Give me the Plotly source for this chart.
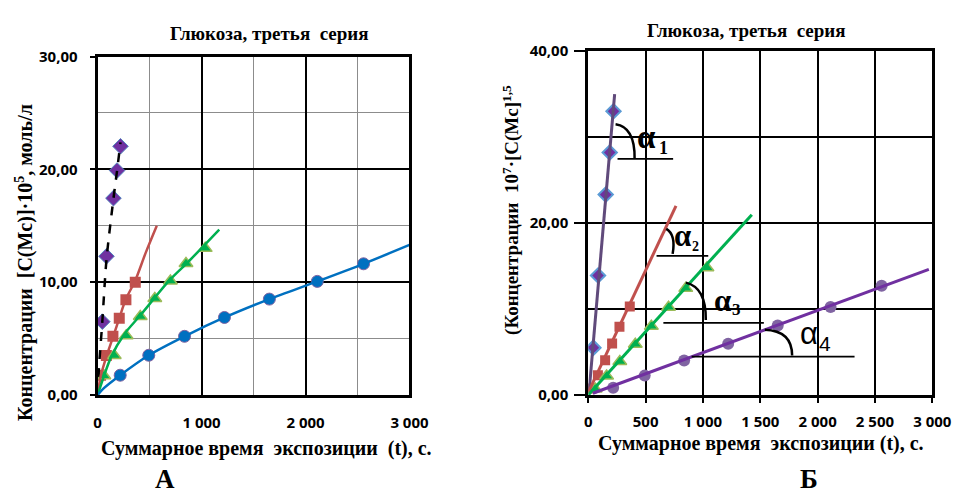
import plotly.graph_objects as go

W, H = 976, 499


def px(x):
    return x / W


def py(y):
    return 1 - y / H


# ---------------- data ----------------
# time, s
dia_t = [45, 85, 152, 187, 220]
sq_t = [28, 84, 147, 208, 272, 362]
tri_t = [60, 160, 275, 410, 550, 700, 850, 1035]
cir_t = [217, 492, 836, 1220, 1652, 2113, 2558]

# panel A: concentration C*10^5, mol/l
dia_c = [6.5, 12.3, 17.45, 19.9, 22.05]
sq_c = [1.75, 3.5, 5.2, 6.8, 8.45, 10.0]
tri_c = [1.7, 3.5, 5.25, 6.95, 8.55, 10.1, 11.65, 13.0]
cir_c = [1.75, 3.52, 5.2, 6.87, 8.5, 10.07, 11.63]

# panel B: 10^7*[C]^1.5
dia_c15 = [5.5, 13.9, 23.3, 28.2, 33.0]
sq_c15 = [0.75, 2.3, 4.05, 6.0, 7.93, 10.3]
tri_c15 = [0.7, 2.2, 3.9, 5.9, 8.0, 10.2, 12.4, 14.8]
cir_c15 = [0.85, 2.25, 4.0, 5.96, 8.08, 10.24, 12.7]

# trend lines, panel A
dia_fit_t = [0, 12, 45, 85, 152, 187, 220]
dia_fit_c = [0, 2.3, 6.5, 12.0, 17.4, 19.9, 22.4]
sq_fit_t = [0, 28, 84, 147, 208, 272, 362, 460, 569]
sq_fit_c = [0, 1.6, 3.4, 5.1, 6.8, 8.5, 10.15, 12.55, 15.0]
tri_fit_t = [0, 131, 256, 413, 694, 882, 1170]
tri_fit_c = [0, 3.4, 5.39, 7.09, 10.2, 11.9, 14.66]
cir_fit_t = [0, 60, 217, 492, 836, 1220, 1652, 2113, 2558, 3000]
cir_fit_c = [0, 0.6, 1.75, 3.52, 5.2, 6.87, 8.5, 10.07, 11.63, 13.3]

# trend lines, panel B (end points)
dia_fit2_t = [8, 230]
dia_fit2_c = [0.5, 35.0]
sq_fit2_t = [0, 765]
sq_fit2_c = [0.3, 22.0]
tri_fit2_t = [0, 1426]
tri_fit2_c = [0, 20.97]
cir_fit2_t = [40, 2970]
cir_fit2_c = [0.2, 14.6]

# tick labels
x_ticks_A = [0, 1000, 2000, 3000]
x_labels_A = ["0", "1 000", "2 000", "3 000"]
y_ticks_A = [0, 10, 20, 30]
y_labels_A = ["0,00", "10,00", "20,00", "30,00"]
x_ticks_B = [0, 500, 1000, 1500, 2000, 2500, 3000]
x_labels_B = ["0", "500", "1 000", "1 500", "2 000", "2 500", "3 000"]
y_ticks_B = [0, 20, 40]
y_labels_B = ["0,00", "20,00", "40,00"]


def bold(labels):
    return ["<b>%s</b>" % s for s in labels]


# ---------------- styles ----------------
PURPLE = "#7030A0"
EDGE_BLUE = "#4F81BD"
RED = "#C0504D"
GREEN = "#00B050"
OLIVE = "#9BBB59"
BLUE = "#0070C0"
LAV = "#8064A2"
DARKPURP = "#604A7B"

fig = go.Figure()

# ---- panel A markers
fig.add_trace(go.Scatter(x=dia_t, y=dia_c, mode="markers", xaxis="x", yaxis="y",
                         marker=dict(symbol="diamond", size=12, color=PURPLE,
                                     line=dict(color=EDGE_BLUE, width=1))))
fig.add_trace(go.Scatter(x=sq_t, y=sq_c, mode="markers", xaxis="x", yaxis="y",
                         marker=dict(symbol="square", size=11, color=RED,
                                     line=dict(color=RED, width=0))))
fig.add_trace(go.Scatter(x=tri_t, y=tri_c, mode="markers", xaxis="x", yaxis="y",
                         marker=dict(symbol="triangle-up", size=12, color=GREEN,
                                     line=dict(color=OLIVE, width=1.5))))
fig.add_trace(go.Scatter(x=cir_t, y=cir_c, mode="markers", xaxis="x", yaxis="y",
                         marker=dict(symbol="circle", size=12, color=BLUE,
                                     line=dict(color=LAV, width=1))))
# ---- panel A trend lines
fig.add_trace(go.Scatter(x=dia_fit_t, y=dia_fit_c, mode="lines", xaxis="x", yaxis="y",
                         line=dict(color="black", width=2.5, dash="dash", shape="spline", smoothing=0.8)))
fig.add_trace(go.Scatter(x=sq_fit_t, y=sq_fit_c, mode="lines", xaxis="x", yaxis="y",
                         line=dict(color=RED, width=2.5, shape="spline", smoothing=0.8)))
fig.add_trace(go.Scatter(x=tri_fit_t, y=tri_fit_c, mode="lines", xaxis="x", yaxis="y",
                         line=dict(color=GREEN, width=2.5, shape="spline", smoothing=0.8)))
fig.add_trace(go.Scatter(x=cir_fit_t, y=cir_fit_c, mode="lines", xaxis="x", yaxis="y",
                         line=dict(color=BLUE, width=2.5, shape="spline", smoothing=0.8)))

# ---- panel B markers
fig.add_trace(go.Scatter(x=dia_t, y=dia_c15, mode="markers", xaxis="x2", yaxis="y2",
                         marker=dict(symbol="diamond", size=11, color=PURPLE,
                                     line=dict(color="#5B9BD5", width=2))))
fig.add_trace(go.Scatter(x=sq_t, y=sq_c15, mode="markers", xaxis="x2", yaxis="y2",
                         marker=dict(symbol="square", size=10, color=RED,
                                     line=dict(color=RED, width=0))))
fig.add_trace(go.Scatter(x=tri_t, y=tri_c15, mode="markers", xaxis="x2", yaxis="y2",
                         marker=dict(symbol="triangle-up", size=12, color=GREEN,
                                     line=dict(color=OLIVE, width=1.5))))
fig.add_trace(go.Scatter(x=cir_t, y=cir_c15, mode="markers", xaxis="x2", yaxis="y2",
                         marker=dict(symbol="circle", size=12, color=LAV,
                                     line=dict(color=LAV, width=0))))
# ---- panel B trend lines
fig.add_trace(go.Scatter(x=dia_fit2_t, y=dia_fit2_c, mode="lines", xaxis="x2", yaxis="y2",
                         line=dict(color=DARKPURP, width=3)))
fig.add_trace(go.Scatter(x=sq_fit2_t, y=sq_fit2_c, mode="lines", xaxis="x2", yaxis="y2",
                         line=dict(color=RED, width=3)))
fig.add_trace(go.Scatter(x=tri_fit2_t, y=tri_fit2_c, mode="lines", xaxis="x2", yaxis="y2",
                         line=dict(color=GREEN, width=3)))
fig.add_trace(go.Scatter(x=cir_fit2_t, y=cir_fit2_c, mode="lines", xaxis="x2", yaxis="y2",
                         line=dict(color=PURPLE, width=3)))

tickfont = dict(family="Open Sans", size=15, color="black", weight="bold")
common = dict(showline=True, linecolor="black", linewidth=3, mirror=True,
              zeroline=False, tickwidth=2, tickcolor="black",
              tickfont=tickfont, fixedrange=True, tickmode="array")

fig.update_layout(
    width=W, height=H, margin=dict(l=0, r=0, t=0, b=0),
    paper_bgcolor="white", plot_bgcolor="white", showlegend=False,
    separators=", ",
    xaxis=dict(domain=[px(96), px(415.7)], anchor="y", range=[0, 3000],
               tickvals=x_ticks_A, ticktext=bold(x_labels_A), ticks="", ticklabelstandoff=12,
               showgrid=True, gridcolor="black", gridwidth=2,
               minor=dict(tickmode="linear", tick0=0, dtick=500, showgrid=True,
                          gridcolor="#8c8c8c", gridwidth=1.3, ticks=""),
               **common),
    yaxis=dict(domain=[py(400), py(47.5)], anchor="x", range=[0, 30],
               tickvals=y_ticks_A, ticktext=bold(y_labels_A),
               ticks="outside", ticklen=5, ticklabelstandoff=9,
               showgrid=True, gridcolor="black", gridwidth=2,
               minor=dict(tickmode="linear", tick0=0, dtick=5, showgrid=True,
                          gridcolor="#8c8c8c", gridwidth=1.3, ticks=""),
               **common),
    xaxis2=dict(domain=[px(599), px(951.7)], anchor="y2", range=[0, 3000],
                tickvals=x_ticks_B, ticktext=bold(x_labels_B),
                ticks="outside", ticklen=5, ticklabelstandoff=6,
                showgrid=True, gridcolor="black", gridwidth=2.2,
                **common),
    yaxis2=dict(domain=[py(400), py(41.7)], anchor="x2", range=[0, 40],
                tickvals=y_ticks_B, ticktext=bold(y_labels_B),
                ticks="outside", ticklen=11, ticklabelstandoff=3,
                showgrid=True, gridcolor="black", gridwidth=2.2,
                minor=dict(tickmode="linear", tick0=0, dtick=10, showgrid=True,
                           gridcolor="black", gridwidth=2.2, ticks=""),
                **common),
)

SERIF = "Liberation Serif"


def text(s, x, y, size, angle=0, family=SERIF, weight="bold"):
    fig.add_annotation(text=s, x=px(x), y=py(y), xref="paper", yref="paper",
                       showarrow=False, xanchor="center", yanchor="middle", textangle=angle,
                       font=dict(family=family, size=size, color="black", weight=weight))


text("Глюкоза, третья  серия", 272, 23, 19)
text("Глюкоза, третья  серия", 761, 20, 19)
text("Суммарное время  экспозиции  (t), с.", 269, 456, 20)
text("Суммарное время  экспозиции (t), с.", 776, 451, 20)
text("Концентрации  [C(Mc)]·10<sup>5</sup>, моль/л", 21, 262, 20, angle=-90)
text("(Концентрации  10<sup>7</sup>·[C(Mc]<sup>1,5</sup>", 520, 207, 19, angle=-90)
text("А", 165, 488, 27)
text("Б", 825, 488, 27)

# angle labels
text("α", 659, 131, 33)
text("1", 676, 143, 18)
text("α", 696, 234, 31)
text("2", 709, 245, 14)
text("α", 737, 302, 31)
text("3", 751, 311, 17)
text("α", 825, 336, 31, family="Liberation Sans", weight="normal")
text("4", 842, 346, 21, family="Liberation Sans", weight="normal")


def hline(x0, x1, y):
    fig.add_shape(type="line", xref="paper", yref="paper", x0=px(x0), x1=px(x1),
                  y0=py(y), y1=py(y), line=dict(color="black", width=1.8))


def arc(p0, c, p1):
    path = "M %f,%f Q %f,%f %f,%f" % (px(p0[0]), py(p0[1]), px(c[0]), py(c[1]), px(p1[0]), py(p1[1]))
    fig.add_shape(type="path", xref="paper", yref="paper", path=path,
                  line=dict(color="black", width=2.5))


hline(629, 686, 154)
arc((627, 118), (647, 121), (646.5, 154))
hline(669, 722, 255)
arc((679, 227), (689, 233), (685.5, 253))
hline(676, 779, 325)
arc((699, 283), (720, 288), (719.5, 322))
hline(705, 872, 360)
arc((780, 332), (808, 333), (808, 359))

fig.write_html("out.html")
